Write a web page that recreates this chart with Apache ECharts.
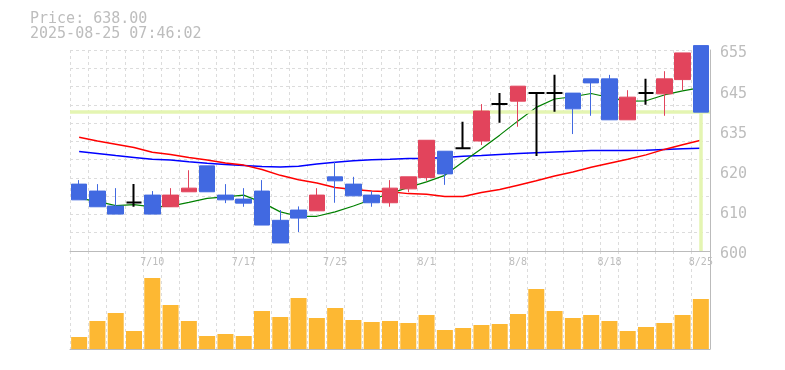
<!DOCTYPE html>
<html><head><meta charset="utf-8">
<script src="https://cdn.jsdelivr.net/npm/echarts@6/dist/echarts.min.js"></script>
<style>html,body{margin:0;padding:0;background:#fff}#c{width:785px;height:370px}</style>
</head><body><div id="c"></div>
<script>
const dates = ['7/4','7/7','7/8','7/9','7/10','7/11','7/14','7/15','7/16','7/17','7/18','7/22','7/23','7/24','7/25','7/28','7/29','7/30','7/31','8/1','8/4','8/5','8/6','8/7','8/8','8/12','8/13','8/14','8/15','8/18','8/19','8/20','8/21','8/22','8/25'];
const opens  = [618.3,616.4,612.3,613.3,615.3,612.1,616.2,623.3,615.3,614.2,616.4,608.4,611.2,611.0,620.3,618.3,615.3,613.2,617.0,620.1,627.3,628.1,630.1,640.2,641.0,643.2,643.2,643.2,647.1,647.1,635.9,643.2,643.0,646.9,656.2];
const closes = [614.0,612.1,610.1,613.3,610.1,615.3,617.2,616.2,614.0,613.1,607.1,602.2,609.0,615.3,619.2,615.1,613.2,617.2,620.3,630.3,621.1,628.1,638.3,640.2,645.1,643.2,643.2,638.9,646.0,635.9,642.1,643.2,647.1,654.2,638.0];
const lows   = [614.0,612.1,610.1,612.1,610.1,612.1,616.2,616.2,613.1,612.1,607.1,602.2,605.2,611.0,613.2,615.1,612.1,612.1,616.1,619.2,618.1,628.1,629.0,635.1,634.0,626.0,638.1,632.0,637.0,635.9,635.9,640.0,637.0,644.0,638.0];
const highs  = [619.4,618.3,617.2,618.3,616.4,617.2,622.1,623.3,618.3,617.2,619.4,611.2,612.2,617.2,624.4,620.3,616.4,619.4,620.3,630.3,627.3,635.4,640.2,643.2,645.1,643.2,648.2,643.2,647.1,648.2,644.0,647.1,649.2,654.2,656.2];
const volumes = [12,28,36,18,71,44,28,13,15,13,38,32,51,31,41,29,27,28,26,34,19,21,24,25,35,60,38,31,34,28,18,22,26,34,50];
const maShort = [614.4,613.6,612.4,612.7,612.1,612.3,613.3,614.4,614.8,615.3,613.3,610.7,609.5,609.5,610.7,612.3,614.1,615.7,617.4,618.9,620.7,624.4,628.0,631.7,635.6,639.3,641.6,642.2,643.1,642.0,641.0,641.1,642.7,643.8,644.7];
const maMid = [631.1,630.1,629.2,628.3,627.0,626.4,625.6,624.9,624.1,623.5,622.3,620.7,619.5,618.6,617.4,616.8,616.4,616.2,615.7,615.5,614.9,614.9,616.0,616.8,618.0,619.2,620.5,621.6,622.9,624.0,625.1,626.3,627.8,629.1,630.3];
const maLong = [627.2,626.7,626.1,625.6,625.1,624.9,624.4,624.0,623.7,623.4,623.1,623.0,623.2,623.8,624.3,624.7,625.0,625.1,625.3,625.3,625.6,625.9,626.1,626.4,626.7,626.9,627.1,627.3,627.5,627.5,627.5,627.6,627.8,628.0,628.1];
const yTickLabels = ['600','610','620','635','645','655'];
const lastPrice = 638.00;
const timestamp = '2025-08-25 07:46:02';
const priceMin = 600, priceMax = 655;

const F = 'DejaVu Sans Mono';
const grey = '#bdbdbd';
const gridLine = {show: true, lineStyle: {color: '#dcdcdc', type: [3, 3], width: 1}};
const candles = dates.map((d, i) => {
  const item = {value: [opens[i], closes[i], lows[i], highs[i]]};
  if (opens[i] === closes[i]) item.itemStyle = {borderWidth: 2};
  return item;
});
const lastIdx = dates.length - 1;

const chart = echarts.init(document.getElementById('c'));
chart.setOption({
  animation: false,
  title: {
    text: 'Price: ' + lastPrice.toFixed(2) + '\n' + timestamp,
    left: 30, top: 11, padding: 0,
    textStyle: {fontFamily: F, fontSize: 15, fontWeight: 'normal', color: grey, lineHeight: 15.6}
  },
  grid: [
    {left: 70, width: 640, top: 50, height: 201},
    {left: 70, width: 640, top: 251, height: 98}
  ],
  xAxis: [
    {type: 'category', gridIndex: 0, data: dates, boundaryGap: true,
     axisLine: {show: true, lineStyle: {color: '#bbb', width: 1}}, axisTick: {show: false},
     axisLabel: {interval: (i) => i % 5 === 4, fontFamily: F, fontSize: 10, color: grey, margin: 6},
     splitLine: Object.assign({interval: 0}, gridLine)},
    {type: 'category', gridIndex: 1, data: dates, boundaryGap: true,
     axisLine: {show: true, lineStyle: {color: '#bbb', width: 1}}, axisTick: {show: false},
     axisLabel: {show: false},
     splitLine: Object.assign({interval: 0}, gridLine)}
  ],
  yAxis: [
    {type: 'value', gridIndex: 0, position: 'right', min: priceMin, max: priceMax, interval: 5,
     axisLine: {show: true, lineStyle: {color: '#bbb'}}, axisTick: {show: false}, axisLabel: {show: false},
     splitLine: gridLine},
    {type: 'value', gridIndex: 0, position: 'right', min: priceMin, max: priceMax, interval: 11,
     axisLine: {show: false}, axisTick: {show: false}, splitLine: {show: false},
     axisLabel: {formatter: (v, i) => yTickLabels[i], fontFamily: F, fontSize: 15, color: grey, margin: 10,
                 verticalAlign: 'top', lineHeight: 7}},
    {type: 'value', gridIndex: 1, position: 'right', min: 0, max: 98,
     axisLine: {show: true, lineStyle: {color: '#bbb'}}, axisTick: {show: false}, axisLabel: {show: false},
     splitLine: {show: false}}
  ],
  series: [
    {type: 'line', xAxisIndex: 0, yAxisIndex: 0, data: [], z: 1, silent: true,
     markLine: {symbol: 'none', silent: true, label: {show: false},
       lineStyle: {color: '#e4f5b2', width: 3.5, type: 'solid'},
       data: [
         {yAxis: lastPrice},
         [{coord: [lastIdx, lastPrice]}, {coord: [lastIdx, priceMin]}]
       ]}},
    {type: 'line', xAxisIndex: 0, yAxisIndex: 0, data: maLong, symbol: 'none', z: 2,
     lineStyle: {color: '#0000ff', width: 1.5}},
    {type: 'line', xAxisIndex: 0, yAxisIndex: 0, data: maMid, symbol: 'none', z: 2,
     lineStyle: {color: '#ff0000', width: 1.5}},
    {type: 'line', xAxisIndex: 0, yAxisIndex: 0, data: maShort, symbol: 'none', z: 2,
     lineStyle: {color: '#008000', width: 1.2}},
    {type: 'candlestick', xAxisIndex: 0, yAxisIndex: 0, data: candles, barWidth: 16, z: 5, clip: false,
     itemStyle: {color: '#e2445c', color0: '#4169e1', borderColor: '#e2445c', borderColor0: '#4169e1',
                 borderColorDoji: '#000000', borderWidth: 1}},
    {type: 'bar', xAxisIndex: 1, yAxisIndex: 2, data: volumes, barWidth: 16,
     itemStyle: {color: '#fdb833'}}
  ]
});
</script>
</body></html>
